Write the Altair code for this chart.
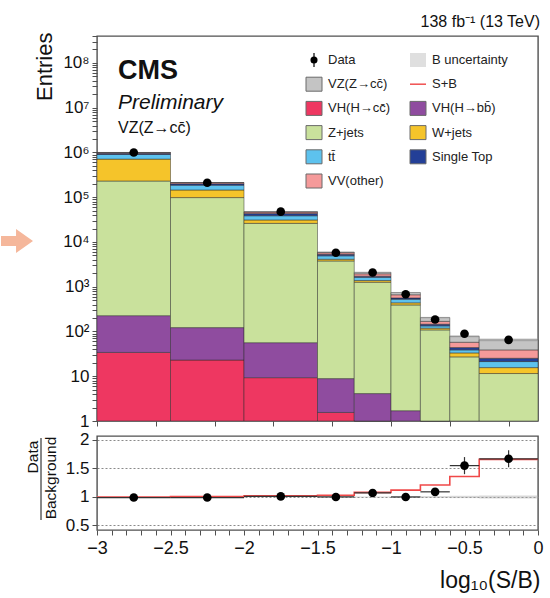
import altair as alt
import pandas as pd

# ---------------------------------------------------------------- data
bin_lo = [-3.0, -2.5, -2.0, -1.5, -1.25, -1.0, -0.8, -0.6, -0.4]
bin_hi = [-2.5, -2.0, -1.5, -1.25, -1.0, -0.8, -0.6, -0.4, 0.0]
bin_mid = [-2.75, -2.25, -1.75, -1.375, -1.125, -0.9, -0.7, -0.5, -0.2]

# expected yields per process, stacked from bottom to top
vh_cc = [34, 23, 9.3, 1.55, 0.6, 0, 0, 0, 0]
vh_bb = [192, 99, 47, 7.3, 3.5, 1.7, 0.5, 0, 0]
z_jets = [2.3e5, 9.8e4, 2.6e4, 3760, 1255, 390, 108, 27.1, 11.5]
w_jets = [4.8e5, 4.7e4, 5.0e3, 340, 115, 46, 10, 6.1, 4.1]
ttbar = [1.9e5, 4.1e4, 7.5e3, 800, 250, 89, 15, 5.6, 5.7]
single_top = [6.0e4, 1.4e4, 4.5e3, 400, 100, 35, 12, 5.0, 3.9]
vv_other = [3.5e4, 1.2e4, 3.5e3, 450, 220, 100, 23, 13.6, 13.6]
vz_cc = [5.0e3, 1.0e3, 900, 170, 155, 80, 36, 20.6, 26.2]

# observed events
data_val = [1.0e6, 2.1e5, 4.75e4, 5750, 2080, 680, 185, 89, 65]
data_err = [1000, 460, 220, 76, 46, 26, 14, 9.4, 8.1]
# relative background uncertainty
bkg_unc = [0.01, 0.01, 0.015, 0.02, 0.02, 0.03, 0.04, 0.06, 0.08]

# ratio panel
ratio_data = [0.99, 0.99, 1.01, 1.0, 1.07, 1.0, 1.09, 1.55, 1.67]
ratio_err = [0.004, 0.005, 0.008, 0.015, 0.025, 0.03, 0.04, 0.15, 0.15]
ratio_sb = [1.0, 1.005, 1.02, 1.03, 1.08, 1.12, 1.21, 1.36, 1.66]
ratio_unc = [0.004, 0.004, 0.006, 0.008, 0.01, 0.012, 0.015, 0.02, 0.025]

processes = ["VH(H→cc̄)", "VH(H→bb̄)", "Z+jets", "W+jets", "tt̄",
             "Single Top", "VV(other)", "VZ(Z→cc̄)"]
proc_colors = ["#ee3761", "#8f4c9f", "#c9e19c", "#f5c42a", "#5dc2ee",
               "#233f97", "#f59a9a", "#c4c4c4"]
proc_yields = [vh_cc, vh_bb, z_jets, w_jets, ttbar, single_top, vv_other, vz_cc]

legend_labels = ["Data", "B uncertainty", "VZ(Z→cc̄)", "S+B", "VH(H→cc̄)",
                 "VH(H→bb̄)", "Z+jets", "W+jets", "tt̄", "Single Top", "VV(other)"]

# ---------------------------------------------------------------- tables
stack_rows = []
totals = []
for i in range(len(bin_lo)):
    base = 0.0
    for name, ys in zip(processes, proc_yields):
        v = ys[i]
        if v > 0:
            stack_rows.append(dict(lo=bin_lo[i], hi=bin_hi[i],
                                   y0=max(base, 1e-2), y1=base + v, proc=name))
        base += v
    totals.append(base)
stack = pd.DataFrame(stack_rows)

band = pd.DataFrame(dict(lo=bin_lo, hi=bin_hi,
                         lo_y=[t * (1 - u) for t, u in zip(totals, bkg_unc)],
                         hi_y=[t * (1 + u) for t, u in zip(totals, bkg_unc)]))
obs = pd.DataFrame(dict(x=bin_mid, y=data_val,
                        ylo=[v - e for v, e in zip(data_val, data_err)],
                        yhi=[v + e for v, e in zip(data_val, data_err)]))
rat = pd.DataFrame(dict(x=bin_mid, lo=bin_lo, hi=bin_hi, y=ratio_data,
                        ylo=[v - e for v, e in zip(ratio_data, ratio_err)],
                        yhi=[v + e for v, e in zip(ratio_data, ratio_err)],
                        blo=[1 - u for u in ratio_unc],
                        bhi=[1 + u for u in ratio_unc]))
sb_step = pd.DataFrame(dict(x=bin_lo + [bin_hi[-1]], y=ratio_sb + [ratio_sb[-1]]))

# ---------------------------------------------------------------- layout
W, H, HR = 441, 385, 94
FONT = "Liberation Sans"
FRAME = "#505050"

x_ticks = [round(-3 + 0.1 * i, 1) for i in range(31)]
y_ticks = [m * 10 ** k for k in range(9) for m in range(1, 10) if m * 10 ** k <= 4e8]

xs = alt.Scale(domain=[-3, 0], nice=False, zero=False)
ys = alt.Scale(type="log", domain=[1, 4e8], nice=False, clamp=True)
rs = alt.Scale(domain=[0.42, 2.07], nice=False, zero=False)

log_label = ("abs(log(datum.value)/LN10 - round(log(datum.value)/LN10)) < 1e-6 ? "
             "(datum.value == 1 ? '1' : datum.value == 10 ? '10' : '10' + "
             "['⁰','¹','²','³','⁴','⁵','⁶','⁷','⁸','⁹'][round(log(datum.value)/LN10)]) : ''")

x_main = alt.X("lo:Q", scale=xs, axis=alt.Axis(values=x_ticks, labels=False, title=None,
                                                domain=False, grid=False, tickSize=5,
                                                tickColor=FRAME))
y_main = alt.Y("y0:Q", scale=ys,
               axis=alt.Axis(values=y_ticks, labelExpr=log_label, labelFontSize=17,
                             labelColor="#111", labelPadding=3, labelOverlap=False,
                             domain=False, grid=False, tickSize=5, tickColor=FRAME,
                             title="Entries", titleFontSize=22, titleFontWeight="normal",
                             titleColor="#111", titleAngle=270, titleAlign="right",
                             titleBaseline="alphabetic", titleX=-46, titleY=-4))

stack_layer = alt.Chart(stack).mark_rect(stroke="#2a2a2a", strokeWidth=0.6,
                                         strokeOpacity=0.8).encode(
    x=x_main, x2="hi:Q", y=y_main, y2="y1:Q",
    color=alt.Color("proc:N", scale=alt.Scale(domain=processes, range=proc_colors),
                    legend=None),
)

band_layer = alt.Chart(band).mark_rect(color="#9a9a9a", opacity=0.35).encode(
    x=alt.X("lo:Q", scale=xs), x2="hi:Q",
    y=alt.Y("lo_y:Q", scale=ys), y2="hi_y:Q",
)

obs_err = alt.Chart(obs).mark_rule(color="black", strokeWidth=1.2).encode(
    x=alt.X("x:Q", scale=xs), y=alt.Y("ylo:Q", scale=ys), y2="yhi:Q")
obs_pts = alt.Chart(obs).mark_circle(color="black", size=75, opacity=1).encode(
    x=alt.X("x:Q", scale=xs), y=alt.Y("y:Q", scale=ys))


def label(text, x, y, size, **kw):
    return alt.Chart(pd.DataFrame({"t": [text]})).mark_text(
        font=FONT, fontSize=size, color=kw.pop("color", "#111"), **kw).encode(
        x=alt.value(x), y=alt.value(y), text="t:N")


cms_text = label("CMS", 21, 43, 27, fontWeight="bold", align="left", baseline="alphabetic")
prelim_text = label("Preliminary", 21, 73, 21, fontStyle="italic", align="left",
                    baseline="alphabetic")
channel_text = label("VZ(Z→cc̄)", 21, 97, 16, align="left", baseline="alphabetic")
lumi_text = label("138 fb⁻¹ (13 TeV)", W + 2, -9, 16, align="right", baseline="alphabetic")

# decorative arrow in the left margin, pointing at the panel
arrow_path = "M -1 -0.31 L -0.06 -0.31 L -0.06 -0.75 L 1 0 L -0.06 0.75 L -0.06 0.31 L -1 0.31 Z"
arrow = alt.Chart(pd.DataFrame({"a": [0]})).mark_point(
    shape=arrow_path, size=1024, filled=True, color="#f5b79b", opacity=1,
    strokeWidth=0).encode(x=alt.value(-80), y=alt.value(205))

# ---------------------------------------------------------------- legend
leg_kind = ["data", "band", "box", "line", "box", "box", "box", "box", "box", "box", "box"]
color_of = dict(zip(processes, proc_colors))
leg_rows = []
for i, (lab, kind) in enumerate(zip(legend_labels, leg_kind)):
    col, row = i % 2, i // 2
    sx = [217, 321][col]
    ly = 24 + 24.2 * row
    leg_rows.append(dict(label=lab, kind=kind, sx=sx, sxl=sx - 8, sxr=sx + 8,
                         lx=sx + 14, ly=ly, lyt=ly - 7, lyb=ly + 7,
                         fill=color_of.get(lab, "#dddddd")))
leg = pd.DataFrame(leg_rows)
lxs = alt.Scale(domain=[0, W], nice=False, zero=False)
lys = alt.Scale(domain=[H, 0], nice=False, zero=False)
LX = lambda f: alt.X(f, scale=lxs, axis=None)
LY = lambda f: alt.Y(f, scale=lys, axis=None)

leg_box = alt.Chart(leg).transform_filter("datum.kind == 'box'").mark_rect(
    stroke="#6a6a6a", strokeWidth=1).encode(
    x=LX("sxl:Q"), x2="sxr:Q", y=LY("lyt:Q"), y2="lyb:Q",
    fill=alt.Fill("fill:N", scale=None))
leg_band = alt.Chart(leg).transform_filter("datum.kind == 'band'").mark_rect(
    color="#d2d2d2", opacity=0.7).encode(
    x=LX("sxl:Q"), x2="sxr:Q", y=LY("lyt:Q"), y2="lyb:Q")
leg_line = alt.Chart(leg).transform_filter("datum.kind == 'line'").mark_rule(
    color="#f05050", strokeWidth=1.5).encode(
    x=LX("sxl:Q"), x2="sxr:Q", y=LY("ly:Q"))
leg_derr = alt.Chart(leg).transform_filter("datum.kind == 'data'").mark_rule(
    color="black", strokeWidth=1.2).encode(
    x=LX("sx:Q"), y=LY("lyt:Q"), y2="lyb:Q")
leg_dot = alt.Chart(leg).transform_filter("datum.kind == 'data'").mark_circle(
    color="black", size=50, opacity=1).encode(x=LX("sx:Q"), y=LY("ly:Q"))
leg_text = alt.Chart(leg).mark_text(font=FONT, fontSize=13, color="#222", align="left",
                                    baseline="middle").encode(
    x=LX("lx:Q"), y=LY("ly:Q"), text="label:N")
legend_layer = alt.layer(leg_box, leg_band, leg_line, leg_derr, leg_dot, leg_text)

plot_layers = alt.layer(stack_layer, band_layer, obs_err, obs_pts,
                        cms_text, prelim_text, channel_text, lumi_text, arrow)
main = alt.layer(plot_layers, legend_layer).resolve_scale(
    x="independent", y="independent").properties(width=W, height=H)

# ---------------------------------------------------------------- ratio
# the same axis definition is given to every ratio layer
x_label = "(round(datum.value*10) % 5 == 0) ? format(datum.value, '~g') : ''"
rx_axis = alt.Axis(values=x_ticks, labelExpr=x_label, labelFontSize=18,
                   labelColor="#111", labelOverlap=False, labelPadding=4,
                   domain=False, grid=False, tickSize=5, tickColor=FRAME,
                   title="log₁₀(S/B)", titleFontSize=23,
                   titleFontWeight="normal", titleColor="#111",
                   titleAnchor="end", titleAlign="right", titleX=W + 2,
                   titleY=57, titleBaseline="alphabetic")
ry_axis = alt.Axis(values=[0.5, 1, 1.5, 2], labelExpr="format(datum.value, '~g')",
                   labelFontSize=17, labelColor="#111", labelOverlap=False,
                   labelPadding=3, domain=False, grid=True, gridDash=[2, 2],
                   gridColor="#8a8a8a", gridWidth=1, tickSize=5,
                   tickColor=FRAME, title=None)
RX = lambda f: alt.X(f, scale=xs, axis=rx_axis)
RY = lambda f: alt.Y(f, scale=rs, axis=ry_axis)

rat_band = alt.Chart(rat).mark_rect(color="#a8a8a8", opacity=0.45).encode(
    x=RX("lo:Q"), x2="hi:Q", y=RY("blo:Q"), y2="bhi:Q")
sb_line = alt.Chart(sb_step).mark_line(interpolate="step-after", color="#f04848",
                                       strokeWidth=1.6).encode(
    x=RX("x:Q"), y=RY("y:Q"))
rat_xerr = alt.Chart(rat).mark_rule(color="#333", strokeWidth=1.2).encode(
    x=RX("lo:Q"), x2="hi:Q", y=RY("y:Q"))
rat_yerr = alt.Chart(rat).mark_rule(color="#333", strokeWidth=1.2).encode(
    x=RX("x:Q"), y=RY("ylo:Q"), y2="yhi:Q")
rat_pts = alt.Chart(rat).mark_circle(color="black", size=75, opacity=1).encode(
    x=RX("x:Q"), y=RY("y:Q"))

num_text = label("Data", -64, 21, 15.5, angle=270, align="center", baseline="middle")
den_text = label("Background", -46, 42, 15.5, angle=270, align="center", baseline="middle")
frac_bar = alt.Chart(pd.DataFrame({"a": [0]})).mark_rule(color="#111", strokeWidth=1).encode(
    x=alt.value(-56), y=alt.value(2), y2=alt.value(84))

ratio = alt.layer(rat_band, sb_line, rat_xerr, rat_yerr, rat_pts,
                  num_text, den_text, frac_bar).properties(width=W, height=HR)

chart = alt.vconcat(main, ratio, spacing=0).properties(
    padding={"left": 0, "top": 13, "right": 0, "bottom": 0},
).configure(font=FONT).configure_view(stroke=FRAME, strokeWidth=1.4).configure_axis(
    labelOverlap=False, labelFlush=False)

chart.save("out.html", embed_options={"renderer": "svg", "actions": False})
